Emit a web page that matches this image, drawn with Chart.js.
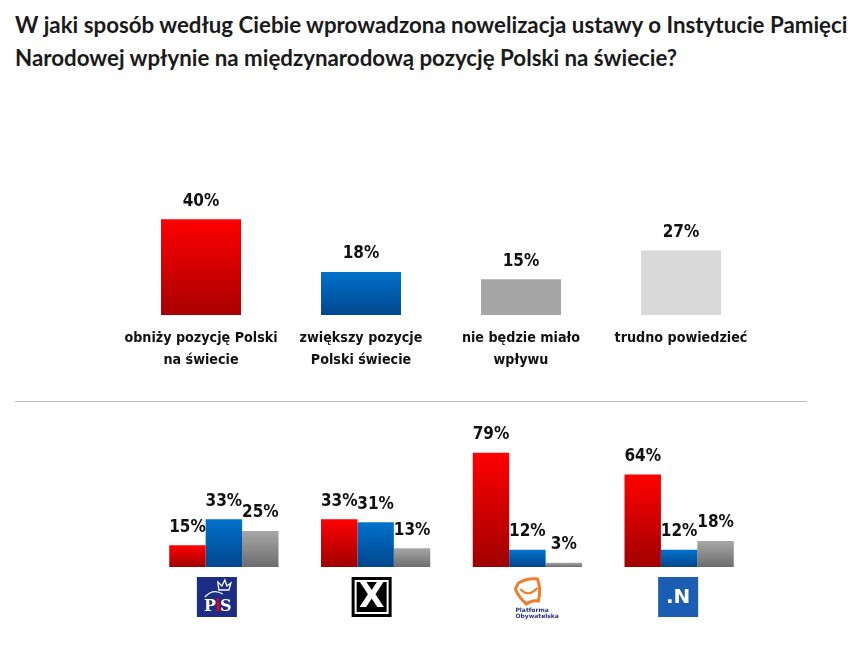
<!DOCTYPE html>
<html>
<head>
<meta charset="utf-8">
<script src="https://cdn.jsdelivr.net/npm/chart.js@4.4.1/dist/chart.umd.min.js"></script>
<style>
  html, body { margin: 0; padding: 0; background: #ffffff; }
  #wrap { position: relative; width: 865px; height: 647px; overflow: hidden; background: #fff; }
  #title { position: absolute; left: 15px; top: 8px; width: 850px; font-family: Lato, "Open Sans", sans-serif; font-weight: bold; font-size: 22.3px; line-height: 33px; color: #1a1a1a; white-space: nowrap; }
  #divider { position: absolute; left: 15px; top: 401px; width: 792px; height: 0; border-top: 1.5px solid #bdbdbd; }
  canvas { position: absolute; }
  #topChart { left: 121px; top: 150px; }
  #botChart { left: 148px; top: 415px; }
</style>
</head>
<body>
<div id="wrap">
  <div id="title">W jaki sposób według Ciebie wprowadzona nowelizacja ustawy o Instytucie Pamięci<br>Narodowej wpłynie na międzynarodową pozycję Polski na świecie?</div>
  <div id="divider"></div>
  <canvas id="topChart" width="640" height="230"></canvas>
  <canvas id="botChart" width="607" height="210"></canvas>
</div>
<script>
// ---- data ----
const topCategories = [["obniży pozycję Polski", "na świecie"], ["zwiększy pozycje", "Polski świecie"], ["nie będzie miało", "wpływu"], ["trudno powiedzieć"]];
const topValues = [40, 18, 15, 27];

const parties = ["PiS", "Kukiz'15", "PO", "Nowoczesna"];
const partyLower = [15, 33, 79, 64];
const partyRaise = [33, 31, 12, 12];
const partyNoEffect = [25, 13, 3, 18];

// ---- styling helpers ----
const valueFont = 'bold 17px "DejaVu Sans Condensed", "DejaVu Sans", sans-serif';
const catFont = 'bold 14.2px "DejaVu Sans Condensed", "DejaVu Sans", sans-serif';

function barGradient(ctx, topColor, bottomColor) {
  const chart = ctx.chart;
  if (!chart.chartArea || ctx.type !== 'data') return topColor;
  const y = chart.scales.y;
  const v = ctx.raw;
  const yTop = y.getPixelForValue(v);
  const yBot = y.getPixelForValue(0);
  if (!isFinite(yTop) || yBot - yTop < 1) return bottomColor;
  const g = chart.ctx.createLinearGradient(0, yTop, 0, yBot);
  g.addColorStop(0, topColor);
  g.addColorStop(1, bottomColor);
  return g;
}

const valueLabels = {
  id: 'valueLabels',
  afterDatasetsDraw(chart) {
    const ctx = chart.ctx;
    ctx.save();
    ctx.font = valueFont;
    ctx.fillStyle = '#111111';
    ctx.textAlign = 'center';
    ctx.textBaseline = 'middle';
    chart.data.datasets.forEach((ds, di) => {
      const meta = chart.getDatasetMeta(di);
      meta.data.forEach((el, i) => {
        ctx.fillText(ds.data[i] + '%', el.x, el.y - 18);
      });
    });
    ctx.restore();
  }
};

const topCatLabels = {
  id: 'topCatLabels',
  afterDraw(chart) {
    const ctx = chart.ctx;
    const x = chart.scales.x, y = chart.scales.y;
    const base = y.getPixelForValue(0);
    ctx.save();
    ctx.font = catFont;
    ctx.fillStyle = '#111111';
    ctx.textAlign = 'center';
    ctx.textBaseline = 'middle';
    topCategories.forEach((lines, i) => {
      const cx = x.getPixelForValue(i);
      lines.forEach((ln, j) => ctx.fillText(ln, cx, base + 23 + j * 22));
    });
    ctx.restore();
  }
};

function drawPiS(ctx, cx, top) {
  const s = 40, l = cx - s / 2;
  ctx.fillStyle = '#1c2d86';
  ctx.fillRect(l, top, s, s);
  ctx.strokeStyle = '#ffffff';
  ctx.lineWidth = 1.3;
  ctx.beginPath();
  ctx.moveTo(cx + 2, top + 13);
  ctx.lineTo(cx + 1, top + 5);
  ctx.lineTo(cx + 5, top + 9);
  ctx.lineTo(cx + 8, top + 3);
  ctx.lineTo(cx + 10, top + 9);
  ctx.lineTo(cx + 14, top + 6);
  ctx.lineTo(cx + 12, top + 13);
  ctx.closePath();
  ctx.stroke();
  ctx.beginPath();
  ctx.moveTo(cx - 12, top + 20);
  ctx.quadraticCurveTo(cx - 4, top + 11, cx + 6, top + 17);
  ctx.stroke();
  ctx.font = 'bold 16px "DejaVu Serif", "Liberation Serif", serif';
  ctx.textBaseline = 'alphabetic';
  ctx.textAlign = 'left';
  ctx.fillStyle = '#ffffff';
  ctx.fillText('P', l + 7, top + 34);
  ctx.fillStyle = '#e3001b';
  ctx.fillText('i', l + 18, top + 34);
  ctx.fillStyle = '#ffffff';
  ctx.fillText('S', l + 23, top + 34);
}

function drawKukiz(ctx, cx, top) {
  const s = 40, l = cx - s / 2;
  ctx.fillStyle = '#000000';
  ctx.fillRect(l, top, s, s);
  ctx.strokeStyle = '#ffffff';
  ctx.lineWidth = 2;
  ctx.strokeRect(l + 4, top + 4, s - 8, s - 8);
  ctx.fillStyle = '#ffffff';
  ctx.font = 'bold 33px "DejaVu Sans", sans-serif';
  ctx.textAlign = 'center';
  ctx.textBaseline = 'middle';
  ctx.fillText('X', cx, top + 21);
}

function drawPO(ctx, cx, top) {
  ctx.strokeStyle = '#f07c2c';
  ctx.lineWidth = 3;
  ctx.beginPath();
  ctx.moveTo(cx - 11, top + 6);
  ctx.quadraticCurveTo(cx - 2, top + 1, cx + 8, top + 2);
  ctx.quadraticCurveTo(cx + 12, top + 12, cx + 9, top + 24);
  ctx.quadraticCurveTo(cx + 2, top + 23, cx - 3, top + 27);
  ctx.quadraticCurveTo(cx - 11, top + 20, cx - 14, top + 12);
  ctx.closePath();
  ctx.stroke();
  ctx.lineWidth = 2.2;
  ctx.beginPath();
  ctx.moveTo(cx - 9, top + 12);
  ctx.quadraticCurveTo(cx - 1, top + 21, cx + 8, top + 11);
  ctx.stroke();
  ctx.fillStyle = '#28337a';
  ctx.font = 'bold 6px "DejaVu Sans", sans-serif';
  ctx.textAlign = 'left';
  ctx.textBaseline = 'middle';
  ctx.fillText('Platforma', cx - 14, top + 33);
  ctx.fillText('Obywatelska', cx - 14, top + 39);
}

function drawN(ctx, cx, top) {
  const s = 40, l = cx - s / 2;
  ctx.fillStyle = '#1a5db2';
  ctx.fillRect(l, top, s, s);
  ctx.fillStyle = '#ffffff';
  ctx.font = 'bold 20px "DejaVu Sans", sans-serif';
  ctx.textAlign = 'center';
  ctx.textBaseline = 'middle';
  ctx.fillText('.N', cx, top + 21);
}

const logoDrawers = [drawPiS, drawKukiz, drawPO, drawN];
const logoOffsets = [-7, -4, 2, -1];

const partyLogos = {
  id: 'partyLogos',
  afterDraw(chart) {
    const ctx = chart.ctx;
    const x = chart.scales.x, y = chart.scales.y;
    const base = y.getPixelForValue(0);
    parties.forEach((p, i) => {
      ctx.save();
      logoDrawers[i](ctx, x.getPixelForValue(i) + logoOffsets[i], base + 10);
      ctx.restore();
    });
  }
};

const hiddenScales = (max) => ({
  x: { display: false, grid: { display: false } },
  y: { display: false, min: 0, max: max, grid: { display: false } }
});

// ---- top chart ----
new Chart(document.getElementById('topChart'), {
  type: 'bar',
  data: {
    labels: topCategories.map(c => c.join(' ')),
    datasets: [{
      data: topValues,
      backgroundColor: (ctx) => {
        const i = ctx.dataIndex;
        if (i === 0) return barGradient(ctx, '#ff0000', '#a80000');
        if (i === 1) return barGradient(ctx, '#0072cc', '#00478e');
        if (i === 2) return '#a6a6a6';
        return '#d9d9d9';
      },
      borderWidth: 0,
      barPercentage: 0.5,
      categoryPercentage: 1.0
    }]
  },
  options: {
    responsive: false,
    animation: false,
    layout: { padding: { left: 0, right: 0, top: 0, bottom: 65 } },
    plugins: { legend: { display: false }, tooltip: { enabled: false }, title: { display: false } },
    scales: hiddenScales(69)
  },
  plugins: [valueLabels, topCatLabels]
});

// ---- bottom chart ----
new Chart(document.getElementById('botChart'), {
  type: 'bar',
  data: {
    labels: parties,
    datasets: [
      { label: 'obniży pozycję Polski na świecie', data: partyLower,
        backgroundColor: (ctx) => barGradient(ctx, '#ff0000', '#a00000'),
        borderWidth: 0, barPercentage: 1.0, categoryPercentage: 0.72 },
      { label: 'zwiększy pozycje Polski świecie', data: partyRaise,
        backgroundColor: (ctx) => barGradient(ctx, '#0072cc', '#00468c'),
        borderWidth: 0, barPercentage: 1.0, categoryPercentage: 0.72 },
      { label: 'nie będzie miało wpływu', data: partyNoEffect,
        backgroundColor: (ctx) => barGradient(ctx, '#a8a8a8', '#6c6c6c'),
        borderWidth: 0, barPercentage: 1.0, categoryPercentage: 0.72 }
    ]
  },
  options: {
    responsive: false,
    animation: false,
    layout: { padding: { left: 0, right: 0, top: 0, bottom: 58 } },
    plugins: { legend: { display: false }, tooltip: { enabled: false }, title: { display: false } },
    scales: hiddenScales(105.2)
  },
  plugins: [valueLabels, partyLogos]
});
</script>
</body>
</html>
